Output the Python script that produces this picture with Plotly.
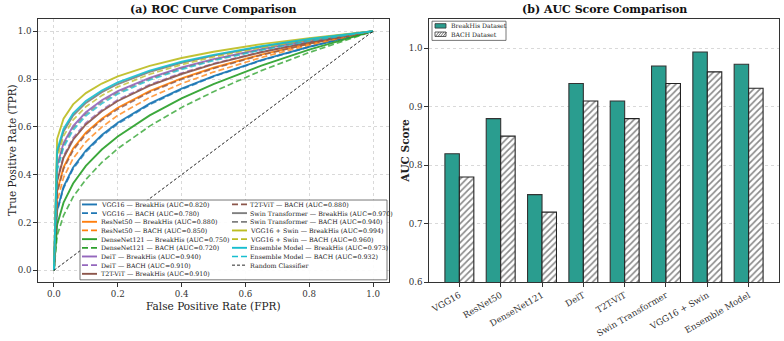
import plotly.graph_objects as go

W, H = 784, 341

# ---------------- data ----------------
models = ["VGG16", "ResNet50", "DenseNet121", "DeiT", "T2T-ViT",
          "Swin Transformer", "VGG16 + Swin", "Ensemble Model"]
auc_breakhis = [0.820, 0.880, 0.750, 0.940, 0.910, 0.970, 0.994, 0.973]
auc_bach = [0.780, 0.850, 0.720, 0.910, 0.880, 0.940, 0.960, 0.932]
colors = ["#1f77b4", "#ff7f0e", "#2ca02c", "#9467bd", "#8c564b",
          "#7f7f7f", "#bcbd22", "#17becf"]

fpr = [0, 0.01, 0.03, 0.06, 0.1, 0.15, 0.2, 0.3, 0.4, 0.5, 0.65, 0.8, 1.0]

tpr_breakhis = {
    "VGG16":            [0, 0.251, 0.349, 0.430, 0.501, 0.566, 0.617, 0.697, 0.760, 0.812, 0.879, 0.935, 1.0],
    "ResNet50":         [0, 0.331, 0.431, 0.509, 0.576, 0.634, 0.680, 0.749, 0.803, 0.847, 0.902, 0.948, 1.0],
    "DenseNet121":      [0, 0.191, 0.283, 0.363, 0.437, 0.505, 0.560, 0.648, 0.719, 0.779, 0.856, 0.923, 1.0],
    "DeiT":             [0, 0.437, 0.532, 0.603, 0.661, 0.711, 0.749, 0.805, 0.848, 0.883, 0.925, 0.961, 1.0],
    "T2T-ViT":          [0, 0.372, 0.471, 0.546, 0.610, 0.665, 0.708, 0.772, 0.821, 0.862, 0.912, 0.953, 1.0],
    "Swin Transformer": [0, 0.490, 0.581, 0.647, 0.700, 0.745, 0.779, 0.830, 0.868, 0.898, 0.935, 0.966, 1.0],
    "VGG16 + Swin":     [0, 0.550, 0.634, 0.694, 0.741, 0.781, 0.811, 0.855, 0.888, 0.914, 0.946, 0.971, 1.0],
    "Ensemble Model":   [0, 0.501, 0.591, 0.656, 0.708, 0.752, 0.786, 0.835, 0.872, 0.901, 0.937, 0.967, 1.0],
}
tpr_bach = {
    "VGG16":            [0, 0.246, 0.343, 0.424, 0.495, 0.561, 0.612, 0.693, 0.756, 0.810, 0.877, 0.934, 1.0],
    "ResNet50":         [0, 0.288, 0.388, 0.468, 0.537, 0.599, 0.648, 0.723, 0.781, 0.829, 0.890, 0.942, 1.0],
    "DenseNet121":      [0, 0.145, 0.229, 0.307, 0.380, 0.451, 0.509, 0.603, 0.681, 0.747, 0.835, 0.911, 1.0],
    "DeiT":             [0, 0.380, 0.479, 0.554, 0.617, 0.671, 0.713, 0.777, 0.825, 0.865, 0.914, 0.954, 1.0],
    "T2T-ViT":          [0, 0.324, 0.424, 0.502, 0.569, 0.628, 0.674, 0.745, 0.799, 0.844, 0.900, 0.947, 1.0],
    "Swin Transformer": [0, 0.427, 0.523, 0.594, 0.653, 0.704, 0.743, 0.800, 0.844, 0.880, 0.923, 0.960, 1.0],
    "VGG16 + Swin":     [0, 0.468, 0.561, 0.629, 0.684, 0.731, 0.767, 0.820, 0.860, 0.892, 0.931, 0.964, 1.0],
    "Ensemble Model":   [0, 0.417, 0.514, 0.586, 0.646, 0.697, 0.737, 0.796, 0.840, 0.877, 0.921, 0.959, 1.0],
}
random_x = [0, 1]
random_y = [0, 1]

xticks_roc = [0.0, 0.2, 0.4, 0.6, 0.8, 1.0]
yticks_roc = [0.0, 0.2, 0.4, 0.6, 0.8, 1.0]
yticks_auc = [0.6, 0.7, 0.8, 0.9, 1.0]

# ---------------- helpers ----------------
FONT = "DejaVu Serif"
TXT = "#222222"


def px(x):
    return x / W


def py(y):
    return 1 - y / H


fig = go.Figure()

# ROC curves
legend_items = []
for i, m in enumerate(models):
    fig.add_trace(go.Scatter(x=fpr, y=tpr_breakhis[m], mode="lines",
                             line=dict(color=colors[i], width=1.9),
                             opacity=0.9, showlegend=False,
                             xaxis="x", yaxis="y"))
    legend_items.append((f"{m} \u2014 BreakHis (AUC={auc_breakhis[i]:.3f})", colors[i], "solid", 1.9))
    fig.add_trace(go.Scatter(x=fpr, y=tpr_bach[m], mode="lines",
                             line=dict(color=colors[i], width=1.7, dash="6px,3px"),
                             opacity=0.75, showlegend=False,
                             xaxis="x", yaxis="y"))
    legend_items.append((f"{m} \u2014 BACH (AUC={auc_bach[i]:.3f})", colors[i], "6px,3px", 1.7))

fig.add_trace(go.Scatter(x=random_x, y=random_y, mode="lines",
                         line=dict(color="#111111", width=0.9, dash="3px,2px"),
                         showlegend=False, xaxis="x", yaxis="y"))
legend_items.append(("Random Classifier", "#111111", "3px,2px", 0.9))

# AUC bars
fig.add_trace(go.Bar(x=models, y=auc_breakhis, width=0.35, offset=-0.35,
                     marker=dict(color="#2a9d8f", line=dict(color="#333333", width=1.1)),
                     showlegend=False, xaxis="x2", yaxis="y2"))
fig.add_trace(go.Bar(x=models, y=auc_bach, width=0.35, offset=0.0,
                     marker=dict(color="white", line=dict(color="#222222", width=1.1),
                                 pattern=dict(shape="/", fgcolor="#111111", bgcolor="white",
                                              size=4.5, solidity=0.35)),
                     showlegend=False, xaxis="x2", yaxis="y2"))

shapes = []
annotations = []

# ---- manual legend for ROC panel ----
lx0, lx1, ly0, ly1 = 80, 387, 203, 284
shapes.append(dict(type="rect", xref="paper", yref="paper",
                   x0=px(lx0), x1=px(lx1), y0=py(ly1), y1=py(ly0),
                   fillcolor="rgba(255,255,255,0.9)", line=dict(color="#555555", width=0.8)))
col_line_x = [82, 232]
col_text_x = [98.5, 248]
for i, (lab, col, dash, wdt) in enumerate(legend_items):
    c, r = divmod(i, 9)
    yy = 207.5 + 8.8 * r
    shapes.append(dict(type="line", xref="paper", yref="paper",
                       x0=px(col_line_x[c]), x1=px(col_line_x[c] + 15),
                       y0=py(yy), y1=py(yy),
                       line=dict(color=col, width=wdt, dash=dash)))
    annotations.append(dict(text=lab, xref="paper", yref="paper",
                            x=px(col_text_x[c]), y=py(yy), xanchor="left", yanchor="middle",
                            showarrow=False, font=dict(family=FONT, size=6.3, color=TXT)))

# ---- manual legend for bar panel ----
shapes.append(dict(type="rect", xref="paper", yref="paper",
                   x0=px(432), x1=px(506), y0=py(41), y1=py(21.5),
                   fillcolor="white", line=dict(color="#555555", width=0.8)))
shapes.append(dict(type="rect", xref="paper", yref="paper",
                   x0=px(435), x1=px(446), y0=py(28.5), y1=py(24),
                   fillcolor="#2a9d8f", line=dict(color="#333333", width=0.8)))
shapes.append(dict(type="rect", xref="paper", yref="paper",
                   x0=px(435), x1=px(446), y0=py(37), y1=py(32.5),
                   fillcolor="white", line=dict(color="#333333", width=0.8)))
for hx in [435.5, 438, 440.5, 443]:
    shapes.append(dict(type="line", xref="paper", yref="paper",
                       x0=px(hx), x1=px(hx + 3.5), y0=py(37), y1=py(32.5),
                       line=dict(color="#333333", width=0.7)))
annotations.append(dict(text="BreakHis Dataset", xref="paper", yref="paper",
                        x=px(449), y=py(26.3), xanchor="left", yanchor="middle",
                        showarrow=False, font=dict(family=FONT, size=6.2, color=TXT)))
annotations.append(dict(text="BACH Dataset", xref="paper", yref="paper",
                        x=px(449), y=py(34.8), xanchor="left", yanchor="middle",
                        showarrow=False, font=dict(family=FONT, size=6.2, color=TXT)))

# ---- titles and axis titles ----
annotations += [
    dict(text="<b>(a) ROC Curve Comparison</b>", xref="paper", yref="paper",
         x=px(213.5), y=py(10), xanchor="center", yanchor="middle", showarrow=False,
         font=dict(family=FONT, size=11, color="#111111")),
    dict(text="<b>(b) AUC Score Comparison</b>", xref="paper", yref="paper",
         x=px(604), y=py(10), xanchor="center", yanchor="middle", showarrow=False,
         font=dict(family=FONT, size=11, color="#111111")),
    dict(text="False Positive Rate (FPR)", xref="paper", yref="paper",
         x=px(213.5), y=py(310.5), xanchor="center", yanchor="middle", showarrow=False,
         font=dict(family=FONT, size=10.5, color=TXT)),
    dict(text="True Positive Rate (TPR)", xref="paper", yref="paper",
         x=px(12), y=py(153), xanchor="center", yanchor="middle", showarrow=False,
         textangle=-90, font=dict(family=FONT, size=10.5, color=TXT)),
    dict(text="<b>AUC Score</b>", xref="paper", yref="paper",
         x=px(405), y=py(153), xanchor="center", yanchor="middle", showarrow=False,
         textangle=-90, font=dict(family=FONT, size=10.5, color=TXT)),
]

axis_common = dict(showline=True, mirror=True, linecolor="#333333", linewidth=1.2,
                   ticks="outside", ticklen=3.5, tickwidth=1, tickcolor="#333333",
                   tickfont=dict(family=FONT, size=8.7, color="#333333"),
                   zeroline=False)
grid = dict(showgrid=True, gridcolor="#d9d9d9", gridwidth=0.8, griddash="dot")

ydom = [py(286.5), py(19.5)]
fig.update_layout(
    width=W, height=H, margin=dict(l=0, r=0, t=0, b=0),
    paper_bgcolor="white", plot_bgcolor="white",
    showlegend=False, barmode="overlay",
    xaxis=dict(domain=[px(38), px(389)], range=[-0.05, 1.05],
               tickvals=xticks_roc, tickformat=".1f",
               anchor="y", **axis_common, **grid),
    yaxis=dict(domain=ydom, range=[-0.05, 1.05], tickvals=yticks_roc, tickformat=".1f",
               anchor="x", **axis_common, **grid),
    xaxis2=dict(domain=[px(429), px(779)], range=[-0.735, 7.735], type="category",
                tickangle=-30, anchor="y2", showgrid=False, **axis_common),
    yaxis2=dict(domain=ydom, range=[0.6, 1.05], tickvals=yticks_auc, tickformat=".1f",
                anchor="x2", **axis_common, **grid),
    shapes=shapes, annotations=annotations,
)

fig.write_html("out.html")
